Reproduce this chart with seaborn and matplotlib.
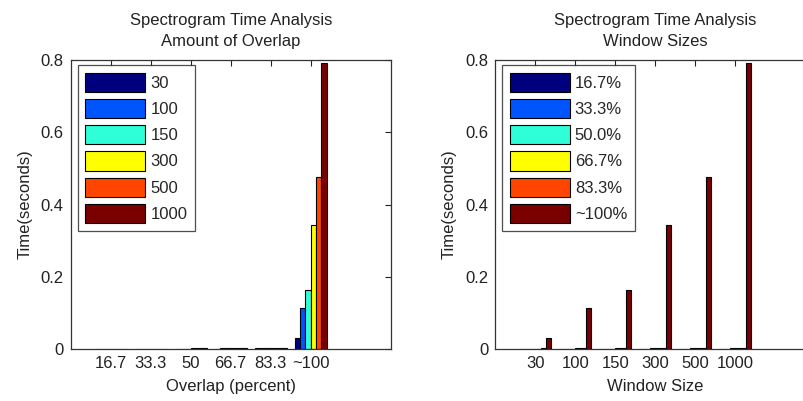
import matplotlib
matplotlib.use("Agg")
import matplotlib.pyplot as plt
import pandas as pd
import seaborn as sns

# categories
overlap_labels = ["16.7", "33.3", "50", "66.7", "83.3", "~100"]
overlap_legend = ["16.7%", "33.3%", "50.0%", "66.7%", "83.3%", "~100%"]
window_labels = ["30", "100", "150", "300", "500", "1000"]

# time (seconds) per window size, one value per overlap level
time_w30 = [0.001, 0.001, 0.001, 0.001, 0.002, 0.031]
time_w100 = [0.001, 0.001, 0.001, 0.002, 0.002, 0.113]
time_w150 = [0.001, 0.001, 0.001, 0.002, 0.002, 0.162]
time_w300 = [0.001, 0.001, 0.002, 0.002, 0.002, 0.342]
time_w500 = [0.001, 0.001, 0.002, 0.002, 0.002, 0.477]
time_w1000 = [0.001, 0.001, 0.002, 0.002, 0.003, 0.792]

jet_colors = ["#00007F", "#0055FF", "#2EFFD8", "#FFFF00", "#FF4500", "#7A0000"]

rows = []
for w, vals in zip(window_labels, [time_w30, time_w100, time_w150, time_w300, time_w500, time_w1000]):
    for o, ol, v in zip(overlap_labels, overlap_legend, vals):
        rows.append({"window": w, "overlap": o, "overlap_pct": ol, "time": v})
df = pd.DataFrame(rows)

sns.set_style("white")
plt.rcParams["font.family"] = ["Liberation Sans", "DejaVu Sans"]
plt.rcParams["font.size"] = 12

fig = plt.figure(figsize=(8.04, 4.01), dpi=100)
ax1 = fig.add_axes([0.088, 0.130, 0.398, 0.720])
ax2 = fig.add_axes([0.616, 0.130, 0.398, 0.720])

TXT = "#222222"


def style_axis(ax, title, xlabel):
    ax.set_xlim(-1, 7)
    ax.set_ylim(0, 0.8)
    ax.set_yticks([0, 0.2, 0.4, 0.6, 0.8])
    ax.set_yticklabels(["0", "0.2", "0.4", "0.6", "0.8"])
    ax.tick_params(direction="in", length=4, width=0.8, top=True, right=True,
                   labelsize=12, colors=TXT, pad=5)
    for s in ax.spines.values():
        s.set_visible(True)
        s.set_color("#333333")
        s.set_linewidth(0.9)
    ax.set_title(title, fontsize=12, color=TXT, pad=10, linespacing=1.5)
    ax.set_xlabel(xlabel, fontsize=12, color=TXT, labelpad=6)
    ax.set_ylabel("Time(seconds)", fontsize=12, color=TXT, labelpad=6)
    leg = ax.legend(loc="upper left", frameon=True, fancybox=False,
                    handlelength=3.6, handleheight=1.4, handletextpad=0.3,
                    labelspacing=0.42, borderpad=0.45, fontsize=12,
                    bbox_to_anchor=(0.022, 0.983), borderaxespad=0)
    leg.get_frame().set_edgecolor(TXT)
    leg.get_frame().set_linewidth(0.9)
    for h in leg.legend_handles:
        h.set_edgecolor("black")
        h.set_linewidth(0.8)


sns.barplot(data=df, x="overlap", y="time", hue="window", order=overlap_labels,
            hue_order=window_labels, palette=jet_colors, edgecolor="black",
            linewidth=0.8, width=0.8, errorbar=None, saturation=1, ax=ax1)
style_axis(ax1, "Spectrogram Time Analysis\nAmount of Overlap", "Overlap (percent)")

sns.barplot(data=df, x="window", y="time", hue="overlap_pct", order=window_labels,
            hue_order=overlap_legend, palette=jet_colors, edgecolor="black",
            linewidth=0.8, width=0.8, errorbar=None, saturation=1, ax=ax2)
style_axis(ax2, "Spectrogram Time Analysis\nWindow Sizes", "Window Size")

fig.savefig("out.png", dpi=100, facecolor="white")
